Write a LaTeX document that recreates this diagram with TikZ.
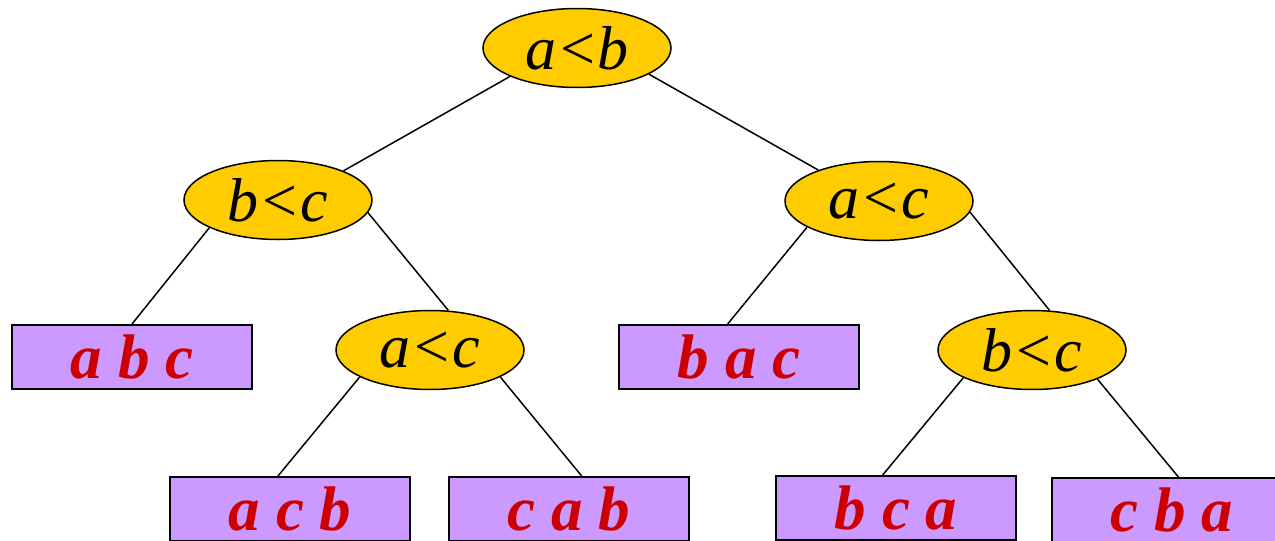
\documentclass[tikz,border=0pt]{standalone}
\usepackage{fontspec}
\setmainfont{Liberation Serif}[ItalicFont={Liberation Serif Italic},BoldFont={Liberation Serif Bold},BoldItalicFont={Liberation Serif Bold Italic}]
\usetikzlibrary{shapes.geometric}
\definecolor{decyellow}{HTML}{FFCC00}
\definecolor{leafpurple}{HTML}{CC99FF}
\definecolor{leafred}{HTML}{CC0000}
\tikzset{
  decision/.style={ellipse, draw=black, line width=1.5pt, fill=decyellow,
    minimum width=188pt, minimum height=79pt, inner sep=0pt,
    font=\fontsize{62}{70}\selectfont\itshape},
  leaf/.style={rectangle, draw=black, line width=2pt, fill=leafpurple,
    minimum width=240pt, minimum height=64pt, inner sep=0pt,
    text=leafred, font=\fontsize{63}{70}\selectfont\bfseries\itshape},
  edge/.style={draw=black, line width=1.5pt}
}
\begin{document}
\begin{tikzpicture}[x=1pt,y=-1pt]
\useasboundingbox (0,0) rectangle (1275,541);
\clip (0,0) rectangle (1275,541);
% decision nodes
\node[decision] (root) at (577,48) {\raisebox{-3pt}{a<b}};
\node[decision] (bcl) at (278,200) {\raisebox{-3pt}{b<c}};
\node[decision] (acr) at (879,201) {\raisebox{-3pt}{a<c}};
\node[decision] (acm) at (430,350) {\raisebox{-3pt}{a<c}};
\node[decision] (bcr) at (1032,350) {\raisebox{-3pt}{b<c}};
% leaves
\node[leaf] (abc) at (132,357) {\raisebox{-4pt}{a b c}};
\node[leaf] (bac) at (739,357) {\raisebox{-4pt}{b a c}};
\node[leaf] (acb) at (290,509) {a c b};
\node[leaf] (cab) at (569,509) {c a b};
\node[leaf] (bca) at (896,508) {b c a};
\node[leaf] (cba) at (1172,510) {c b a};
% connectors
\draw[edge] (root.203) -- (bcl.24);
\draw[edge] (root.-20) -- (acr.153);
\draw[edge] (bcl.202) -- (abc.north);
\draw[edge] (bcl.-8) -- (acm.65);
\draw[edge] (acr.200) -- (bac.109);
\draw[edge] (acr.-7) -- (bcr.66);
\draw[edge] (acm.201) -- (acb.110);
\draw[edge] (acm.-21) -- (cab.69);
\draw[edge] (bcr.202) -- (bca.112);
\draw[edge] (bcr.-24) -- (cba.79);
\end{tikzpicture}
\end{document}
